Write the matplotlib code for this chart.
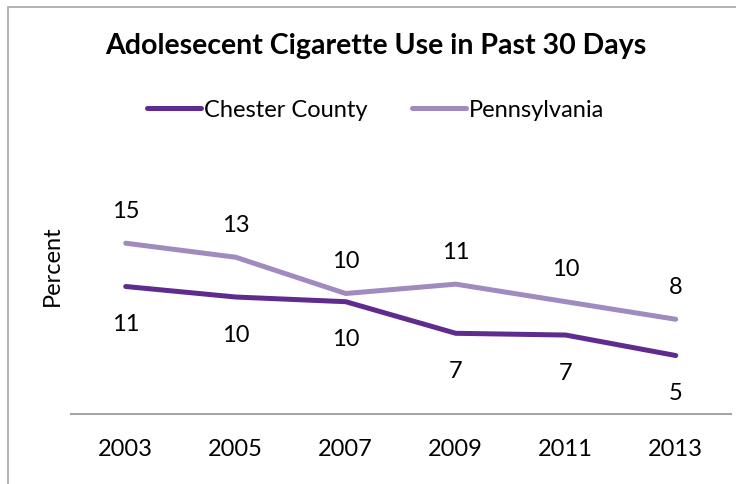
import matplotlib.pyplot as plt
from matplotlib.patches import Rectangle

# dados
anos = ['2003', '2005', '2007', '2009', '2011', '2013']
chester = [10.9, 10.0, 9.6, 6.9, 6.75, 5.0]
pensilvania = [14.6, 13.4, 10.3, 11.1, 9.6, 8.1]

cor_chester = '#5f2b8e'
cor_pa = '#a08bc0'

plt.rcParams['font.family'] = ['Lato', 'DejaVu Sans']

fig = plt.figure(figsize=(7.36, 4.85), dpi=100)
ax = fig.add_axes([0.0961, 0.1443, 0.8967, 0.4342])

x = range(len(anos))
ax.plot(x, chester, color=cor_chester, linewidth=3.6, solid_capstyle='round',
        solid_joinstyle='round', label='Chester County')
ax.plot(x, pensilvania, color=cor_pa, linewidth=3.6, solid_capstyle='round',
        solid_joinstyle='round', label='Pennsylvania')

# rótulos de dados
for i, v in enumerate(pensilvania):
    ax.annotate(f'{v:.0f}', (i, v), xytext=(0, 33), textcoords='offset pixels',
                ha='center', va='center', fontsize=17, color='black')
for i, v in enumerate(chester):
    ax.annotate(f'{v:.0f}', (i, v), xytext=(0, -37), textcoords='offset pixels',
                ha='center', va='center', fontsize=17, color='black')

ax.set_xlim(-0.5, len(anos) - 0.5)
ax.set_ylim(0, 18)
ax.set_xticks(list(x))
ax.set_xticklabels(anos, fontsize=17)
ax.tick_params(axis='x', length=0, pad=17)
ax.set_yticks([])
for lado in ['top', 'right', 'left']:
    ax.spines[lado].set_visible(False)
ax.spines['bottom'].set_color('#a6a6a6')
ax.spines['bottom'].set_linewidth(1.5)

fig.text(0.0707, 0.4515, 'Percent', rotation=90, ha='center', va='center', fontsize=17)
fig.text(0.51, 0.905, 'Adolesecent Cigarette Use in Past 30 Days', ha='center', va='center',
         fontsize=20.5, fontweight='bold')

ax.legend(loc='center', bbox_to_anchor=(0.51, 0.772), bbox_transform=fig.transFigure,
          ncol=2, frameon=False, fontsize=17, handlelength=2.3, handletextpad=0.1,
          columnspacing=1.9)

# moldura do gráfico
fig.add_artist(Rectangle((8 / 736, -0.05), 1.2, 1 - 8 / 485 + 0.05, transform=fig.transFigure,
                         fill=False, edgecolor='#a6a6a6', linewidth=1.2))

fig.savefig('out.png', dpi=100)
